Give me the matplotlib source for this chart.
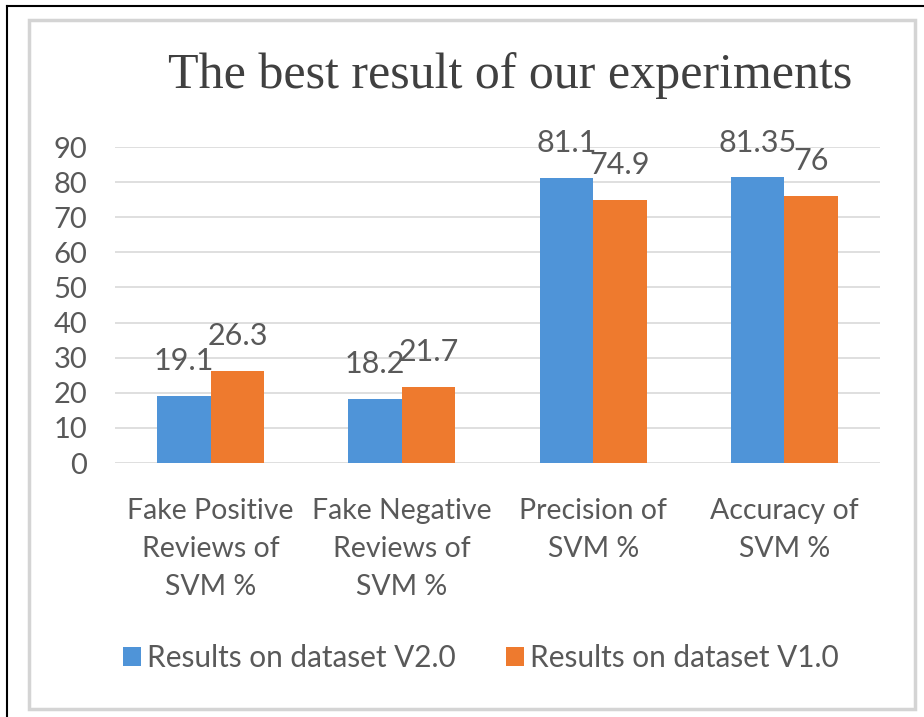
import numpy as np
import matplotlib.pyplot as plt
from matplotlib.patches import Rectangle
from matplotlib.lines import Line2D

# Data
categories = ['Fake Positive\nReviews of\nSVM %', 'Fake Negative\nReviews of\nSVM %',
              'Precision of\nSVM %', 'Accuracy of\nSVM %']
v2_results = [19.1, 18.2, 81.1, 81.35]
v1_results = [26.3, 21.7, 74.9, 76]
series_names = ['Results on dataset V2.0', 'Results on dataset V1.0']
yticks = [0, 10, 20, 30, 40, 50, 60, 70, 80, 90]

blue = '#4F94D8'
orange = '#EE7A2E'
text_grey = '#595959'

fig = plt.figure(figsize=(9.24, 7.17), dpi=100)
fig.patch.set_facecolor('white')

# frame lines around the figure and the chart box
fig.add_artist(Line2D([7 / 924, 7 / 924], [0, 1 - 6 / 717], color='black', lw=1.5,
                      transform=fig.transFigure, zorder=-5))
fig.add_artist(Line2D([7 / 924, 1], [1 - 6 / 717, 1 - 6 / 717], color='black', lw=1.5,
                      transform=fig.transFigure, zorder=-5))
fig.add_artist(Rectangle((29 / 924, 1 - 709 / 717), 886 / 924, 689 / 717, transform=fig.transFigure,
                         facecolor='white', edgecolor='#D4D4D4', lw=2.5, zorder=-5))

ax = fig.add_axes([115 / 924, 1 - 463 / 717, 765 / 924, 316 / 717])
x = np.arange(len(categories))
w = 0.28
b1 = ax.bar(x - w / 2, v2_results, w, color=blue, label=series_names[0], zorder=3)
b2 = ax.bar(x + w / 2, v1_results, w, color=orange, label=series_names[1], zorder=3)

for bars, vals in ((b1, v2_results), (b2, v1_results)):
    for rect, v in zip(bars, vals):
        ax.annotate(f'{v:g}', (rect.get_x() + rect.get_width() / 2, v), xytext=(0, 15),
                    textcoords='offset points', ha='center', va='bottom',
                    fontsize=22, color=text_grey, family='Lato')

ax.set_xlim(-0.5, 3.5)
ax.set_ylim(0, 90)
ax.set_yticks(yticks)
ax.set_xticks(x)
ax.set_xticklabels(categories, fontsize=20.5, color=text_grey, family='Lato', linespacing=1.58)
ax.tick_params(axis='y', labelsize=21, labelcolor=text_grey, length=0, pad=20)
ax.tick_params(axis='x', length=0, pad=25)
for lab in ax.get_yticklabels():
    lab.set_family('Lato')
ax.grid(axis='y', color='#DCDCDC', lw=1.3, zorder=0)
for s in ax.spines.values():
    s.set_visible(False)
ax.set_facecolor('none')

fig.text(510 / 924, 1 - 76 / 717, 'The best result of our experiments', ha='center', va='center',
         fontsize=36, family='Liberation Serif', color='#404040')

fig.legend(handles=[b1, b2], labels=series_names, loc='center', bbox_to_anchor=(481 / 924, 1 - 658 / 717),
           ncol=2, frameon=False, prop={'family': 'Lato', 'size': 21.4}, labelcolor=text_grey,
           handlelength=0.6, handleheight=0.6, handletextpad=0.2, columnspacing=1.7)

fig.savefig('out.png', dpi=100)
